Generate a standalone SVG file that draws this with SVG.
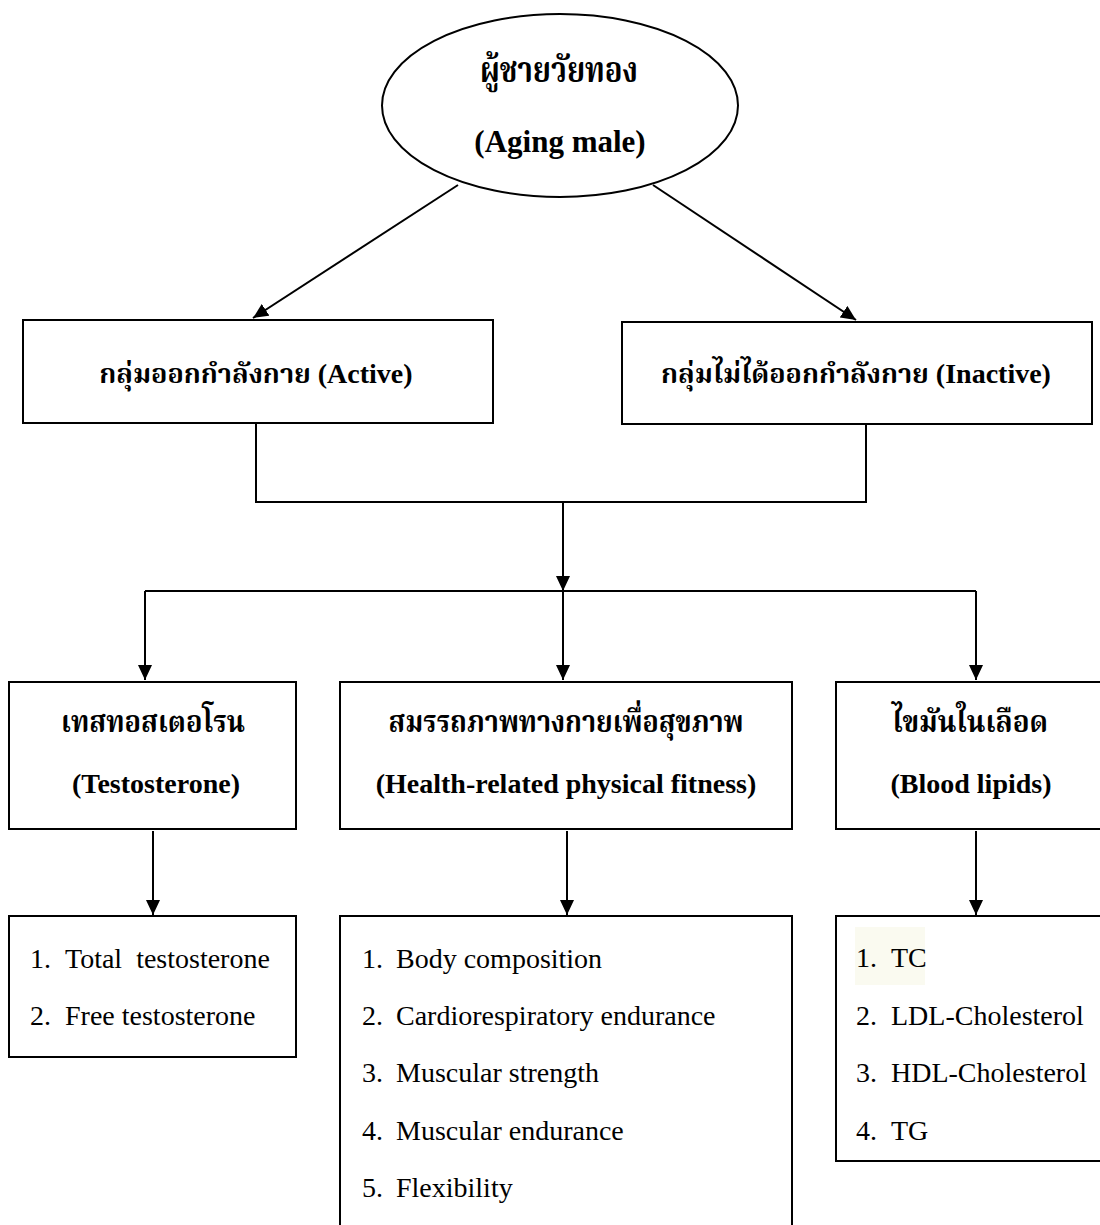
<svg xmlns="http://www.w3.org/2000/svg" width="1100" height="1225" viewBox="0 0 1100 1225">
<style>
.box{fill:#fff;stroke:#000;stroke-width:2}
.ln{fill:none;stroke:#000;stroke-width:2}
.en{font-family:"Liberation Serif","Times New Roman",serif;font-weight:bold;font-size:28px;fill:#000}
.th{font-family:"Noto Serif Thai","Noto Sans Thai","Norasi","Garuda","Loma","Tlwg Typo","Liberation Serif",serif;font-weight:bold;font-size:30px;fill:#000}
.it{font-family:"Liberation Serif","Times New Roman",serif;font-size:28px;fill:#000}
.c{text-anchor:middle}
</style>
<defs>
<marker id="ah" viewBox="0 0 15 14" refX="15" refY="7" markerWidth="15" markerHeight="14" markerUnits="userSpaceOnUse" orient="auto">
<path d="M0,0 L15,7 L0,14 z" fill="#000"/>
</marker>
</defs>
<rect width="1100" height="1225" fill="#fff"/>
<g id="connectors">
<path class="ln" d="M458,185 L253,318" marker-end="url(#ah)"/>
<path class="ln" d="M653,185 L856,320" marker-end="url(#ah)"/>
<path class="ln" d="M256,424 V502 H866 V424"/>
<path class="ln" d="M563,502 V591" marker-end="url(#ah)"/>
<path class="ln" d="M145,591 H976"/>
<path class="ln" d="M145,591 V680" marker-end="url(#ah)"/>
<path class="ln" d="M563,591 V680" marker-end="url(#ah)"/>
<path class="ln" d="M976,591 V680" marker-end="url(#ah)"/>
<path class="ln" d="M153,831 V915" marker-end="url(#ah)"/>
<path class="ln" d="M567,831 V915" marker-end="url(#ah)"/>
<path class="ln" d="M976,831 V915" marker-end="url(#ah)"/>
</g>
<g id="aging-male">
<ellipse class="box" cx="560" cy="105.5" rx="178" ry="91.5"/>
<text class="th c" x="559" y="82" style="font-size:36px" textLength="158" lengthAdjust="spacingAndGlyphs">ผู้ชายวัยทอง</text>
<text class="en c" x="560" y="152" style="font-size:31px">(Aging male)</text>
</g>
<g id="active">
<rect class="box" x="23" y="320" width="470" height="103"/>
<text class="th c" x="256" y="383" style="font-size:27px">กลุ่มออกกำลังกาย <tspan class="en">(Active)</tspan></text>
</g>
<g id="inactive">
<rect class="box" x="622" y="322" width="470" height="102"/>
<text class="th c" x="856" y="383" style="font-size:27px">กลุ่มไม่ได้ออกกำลังกาย <tspan class="en">(Inactive)</tspan></text>
</g>
<g id="testosterone">
<rect class="box" x="9" y="682" width="287" height="147"/>
<text class="th c" x="153" y="732" textLength="184" lengthAdjust="spacingAndGlyphs">เทสทอสเตอโรน</text>
<text class="en c" x="156" y="793">(Testosterone)</text>
</g>
<g id="fitness">
<rect class="box" x="340" y="682" width="452" height="147"/>
<text class="th c" x="566" y="732" textLength="355" lengthAdjust="spacingAndGlyphs">สมรรถภาพทางกายเพื่อสุขภาพ</text>
<text class="en c" x="566" y="793">(Health-related physical fitness)</text>
</g>
<g id="lipids">
<rect class="box" x="836" y="682" width="272" height="147"/>
<text class="th c" x="970" y="732" textLength="156" lengthAdjust="spacingAndGlyphs">ไขมันในเลือด</text>
<text class="en c" x="971" y="793">(Blood lipids)</text>
</g>
<g id="testosterone-list">
<rect class="box" x="9" y="916" width="287" height="141"/>
<text class="it" x="30" y="968">1.</text><text class="it" x="65" y="968" xml:space="preserve">Total  testosterone</text>
<text class="it" x="30" y="1025">2.</text><text class="it" x="65" y="1025">Free testosterone</text>
</g>
<g id="fitness-list">
<rect class="box" x="340" y="916" width="452" height="330"/>
<text class="it" x="362" y="968">1.</text><text class="it" x="396" y="968">Body composition</text>
<text class="it" x="362" y="1025">2.</text><text class="it" x="396" y="1025">Cardiorespiratory endurance</text>
<text class="it" x="362" y="1082">3.</text><text class="it" x="396" y="1082">Muscular strength</text>
<text class="it" x="362" y="1140">4.</text><text class="it" x="396" y="1140">Muscular endurance</text>
<text class="it" x="362" y="1197">5.</text><text class="it" x="396" y="1197">Flexibility</text>
</g>
<g id="lipids-list">
<rect class="box" x="836" y="916" width="272" height="245"/>
<rect x="855" y="927" width="70" height="58" fill="#fafaf0"/>
<text class="it" x="856" y="967">1.</text><text class="it" x="891" y="967">TC</text>
<text class="it" x="856" y="1025">2.</text><text class="it" x="891" y="1025">LDL-Cholesterol</text>
<text class="it" x="856" y="1082">3.</text><text class="it" x="891" y="1082">HDL-Cholesterol</text>
<text class="it" x="856" y="1140">4.</text><text class="it" x="891" y="1140">TG</text>
</g>
</svg>
